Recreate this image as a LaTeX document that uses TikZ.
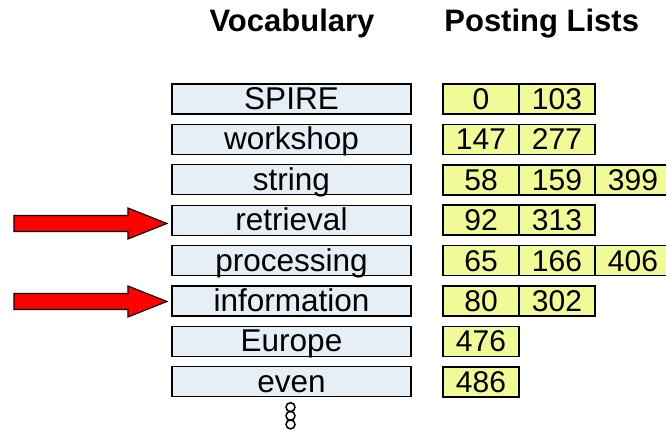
\documentclass[tikz,border=0pt]{standalone}
\usepackage{fontspec}
\setmainfont{Liberation Sans}
\definecolor{vocfill}{RGB}{230,238,246}
\definecolor{posfill}{RGB}{240,250,150}
\definecolor{arrred}{RGB}{255,0,0}
\tikzset{
 vocab/.style={draw=black, line width=1.3pt, fill=vocfill, minimum width=239pt, inner sep=0pt, text height=25.5pt, text depth=4.5pt, font=\fontsize{31.5}{36}\selectfont},
 post/.style={draw=black, line width=1.5pt, fill=posfill, minimum width=76pt, inner sep=0pt, text height=25.5pt, text depth=4.5pt, font=\fontsize{30}{36}\selectfont},
 header/.style={font=\fontsize{31}{36}\selectfont\bfseries, anchor=base, inner sep=0pt},
 redarrow/.style={draw=black, line width=1.1pt, fill=arrred, line join=miter},
 contdot/.style={draw=black, line width=1.5pt, circle, minimum size=9pt, inner sep=0pt}
}
\begin{document}
\begin{tikzpicture}[x=1pt,y=-1pt]
\useasboundingbox (0,0) rectangle (666,430);
\node[header] (hv) at (292,32) {Vocabulary};
\node[header] (hp) at (541.7,32) {Posting Lists};
% vocabulary
\node[vocab] (v1) at (291.5,99) {SPIRE};
\node[vocab] (v2) at (291.5,139.4) {workshop};
\node[vocab] (v3) at (291.5,179.8) {string};
\node[vocab] (v4) at (291.5,220.2) {retrieval};
\node[vocab] (v5) at (291.5,260.6) {processing};
\node[vocab] (v6) at (291.5,301) {information};
\node[vocab] (v7) at (291.5,341.4) {Europe};
\node[vocab] (v8) at (291.5,381.8) {even};
% postings
\node[post] (p1a) at (481,99) {0};
\node[post] (p1b) at (557,99) {103};
\node[post] (p2a) at (481,139.4) {147};
\node[post] (p2b) at (557,139.4) {277};
\node[post] (p3a) at (481,179.8) {58};
\node[post] (p3b) at (557,179.8) {159};
\node[post] (p3c) at (633,179.8) {399};
\node[post] (p4a) at (481,220.2) {92};
\node[post] (p4b) at (557,220.2) {313};
\node[post] (p5a) at (481,260.6) {65};
\node[post] (p5b) at (557,260.6) {166};
\node[post] (p5c) at (633,260.6) {406};
\node[post] (p6a) at (481,301) {80};
\node[post] (p6b) at (557,301) {302};
\node[post] (p7a) at (481,341.4) {476};
\node[post] (p8a) at (481,381.8) {486};
% arrows
\coordinate (t1) at (167,223.5);
\coordinate (t2) at (167,301.5);
\foreach \t in {t1,t2}{
 \draw[redarrow] (\t) -- ++(-39,-15.5) -- ++(0,7.5) -- ++(-114,0) -- ++(0,16) -- ++(114,0) -- ++(0,7.5) -- cycle;
}
% continuation dots
\node[contdot] (d1) at (290.5,407.2) {};
\node[contdot] (d2) at (290.5,415.8) {};
\node[contdot] (d3) at (290.5,424.4) {};
\end{tikzpicture}
\end{document}
